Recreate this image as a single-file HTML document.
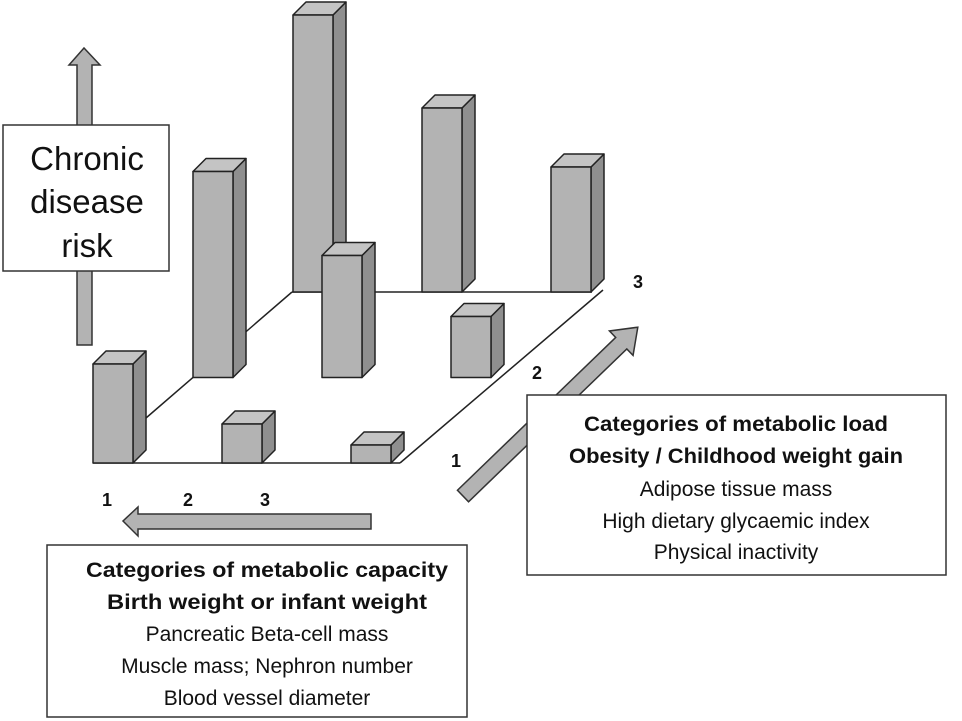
<!DOCTYPE html>
<html><head><meta charset="utf-8"><style>
html,body{margin:0;padding:0;background:#fff;}
svg{display:block;font-family:"Liberation Sans",sans-serif;}
</style></head><body>
<svg id="chart" width="962" height="721" viewBox="0 0 962 721">
  <g id="floor" stroke="#222" stroke-width="1.5" fill="none">
    <line x1="93" y1="463" x2="400" y2="463"/>
    <line x1="146" y1="418" x2="292" y2="292"/>
    <line x1="292" y1="292" x2="592" y2="292"/>
    <line x1="400" y1="463" x2="603" y2="290"/>
  </g>
  <g id="bars"></g>

  <g>
    <polygon points="77,345 92,345 92,65 100,65 84,48 69,65 77,65" fill="#b3b3b3" stroke="#333" stroke-width="1.5"/>
  </g>
  <g>
    <rect x="3" y="125" width="166" height="146" fill="#fff" stroke="#333" stroke-width="1.5"/>
    <text x="87" y="170" font-size="33" text-anchor="middle" fill="#111">Chronic</text>
    <text x="87" y="213" font-size="33" text-anchor="middle" fill="#111">disease</text>
    <text x="87" y="257" font-size="33" text-anchor="middle" fill="#111">risk</text>
  </g>

  <g>
    <polygon points="371,514 371,529 138,529 138,536 123,521 138,507 138,514" fill="#b3b3b3" stroke="#333" stroke-width="1.5"/>
  </g>
  <g font-size="18" font-weight="bold" fill="#111" text-anchor="middle">
    <text x="107" y="506">1</text>
    <text x="188" y="506">2</text>
    <text x="265" y="506">3</text>
    <text x="456" y="467">1</text>
    <text x="537" y="379">2</text>
    <text x="638" y="288">3</text>
  </g>

  <g transform="translate(463,496) rotate(-44)">
    <polygon points="0,-8 220,-8 220,-17 243,0 220,17 220,8 0,8" fill="#b3b3b3" stroke="#333" stroke-width="1.5"/>
  </g>

  <g>
    <rect x="527" y="395" width="419" height="180" fill="#fff" stroke="#333" stroke-width="1.5"/>
    <g font-size="21" text-anchor="middle" fill="#111">
      <text x="736" y="431" font-weight="bold" textLength="304" lengthAdjust="spacingAndGlyphs">Categories of metabolic load</text>
      <text x="736" y="463" font-weight="bold" textLength="334" lengthAdjust="spacingAndGlyphs">Obesity / Childhood weight gain</text>
      <text x="736" y="496">Adipose tissue mass</text>
      <text x="736" y="528">High dietary glycaemic index</text>
      <text x="736" y="559">Physical inactivity</text>
    </g>
  </g>

  <g>
    <rect x="47" y="545" width="420" height="172" fill="#fff" stroke="#333" stroke-width="1.5"/>
    <g font-size="21" text-anchor="middle" fill="#111">
      <text x="267" y="577" font-weight="bold" textLength="362" lengthAdjust="spacingAndGlyphs">Categories of metabolic capacity</text>
      <text x="267" y="609" font-weight="bold" textLength="320" lengthAdjust="spacingAndGlyphs">Birth weight or infant weight</text>
      <text x="267" y="641">Pancreatic Beta-cell mass</text>
      <text x="267" y="673">Muscle mass; Nephron number</text>
      <text x="267" y="705">Blood vessel diameter</text>
    </g>
  </g>
</svg>
<script>
// categories
const capacityCategories = [1, 2, 3];
const loadCategories = [1, 2, 3];
// risk values: rows = load category (1..3), cols = capacity category (1..3)
const riskLoad1 = [99, 39, 18];
const riskLoad2 = [206, 122, 61];
const riskLoad3 = [277, 184, 125];
const riskRows = [riskLoad1, riskLoad2, riskLoad3];

const originX = 93, originY = 463, colStep = 129, rowDX = 100, rowDY = -85.5;
const barW = 40, depth = 13;
function xPos(ci, li) { return originX + ci * colStep + li * rowDX; }
function yBase(li) { return originY + li * rowDY; }
function hScale(v) { return v; }

const g = document.getElementById('bars');
const NS = 'http://www.w3.org/2000/svg';
for (let li = loadCategories.length - 1; li >= 0; li--) {
  for (let ci = 0; ci < capacityCategories.length; ci++) {
    const v = riskRows[li][ci];
    const x = xPos(ci, li), yb = yBase(li), h = hScale(v), yt = yb - h;
    const grp = document.createElementNS(NS, 'g');
    
    
    const side = document.createElementNS(NS, 'polygon');
    side.setAttribute('points', `${x+barW},${yb} ${x+barW+depth},${yb-depth} ${x+barW+depth},${yt-depth} ${x+barW},${yt}`);
    side.setAttribute('fill', '#8f8f8f');
    const top = document.createElementNS(NS, 'polygon');
    top.setAttribute('points', `${x},${yt} ${x+depth},${yt-depth} ${x+barW+depth},${yt-depth} ${x+barW},${yt}`);
    top.setAttribute('fill', '#c4c4c4');
    const front = document.createElementNS(NS, 'rect');
    front.setAttribute('x', x); front.setAttribute('y', yt);
    front.setAttribute('width', barW); front.setAttribute('height', h);
    front.setAttribute('fill', '#b3b3b3');
    [side, top, front].forEach(p => { p.setAttribute('stroke', '#222'); p.setAttribute('stroke-width', '1.5'); p.setAttribute('stroke-linejoin', 'round'); grp.appendChild(p); });
    g.appendChild(grp);
  }
}
</script>
</body></html>
